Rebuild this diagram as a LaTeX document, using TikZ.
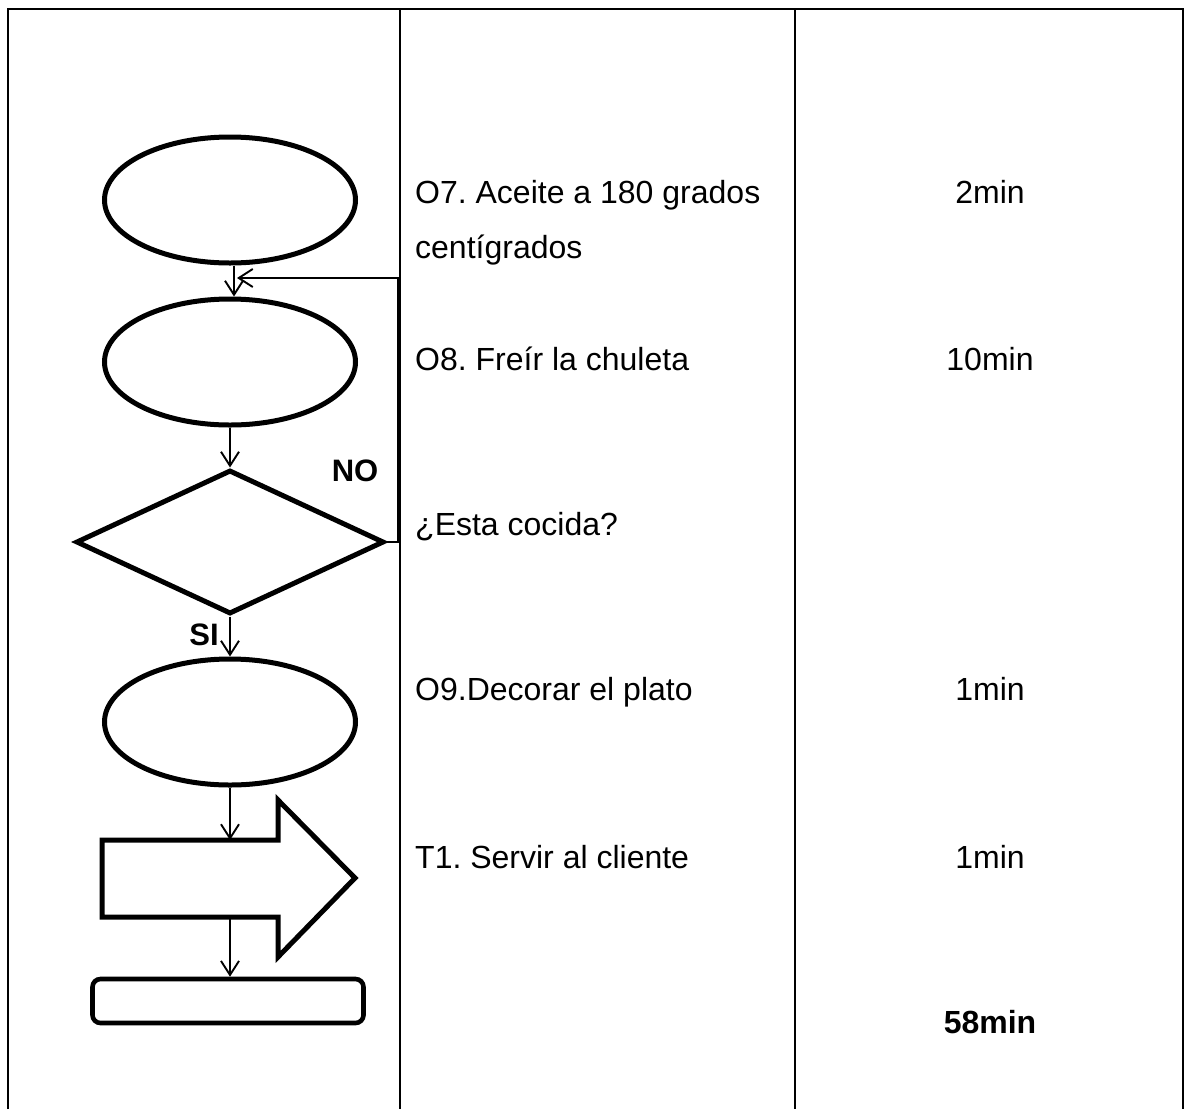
\documentclass[tikz,border=0pt]{standalone}
\usepackage{fontspec}
\setmainfont{Liberation Sans}
\usetikzlibrary{shapes.geometric,arrows.meta,calc}
\begin{document}
\frenchspacing
\begin{tikzpicture}[x=1pt,y=-1pt,
  tablerule/.style={line width=2.5pt},
  oper/.style={draw,ellipse,line width=5pt,minimum width=251pt,minimum height=126pt,inner sep=0pt},
  decis/.style={draw,diamond,line width=5pt,minimum width=308pt,minimum height=144pt,inner sep=0pt},
  endbox/.style={draw,rectangle,rounded corners=8pt,line width=4.6pt,minimum width=271pt,minimum height=44pt,inner sep=0pt},
  conn/.style={line width=1.9pt,-{Straight Barb[length=14pt,width=18pt,line width=1.9pt]}},
  txt/.style={anchor=base west,inner sep=0pt,font=\fontsize{32}{38}\selectfont},
  tim/.style={anchor=base,inner sep=0pt,font=\fontsize{32}{38}\selectfont},
  lbl/.style={anchor=center,inner sep=0pt,font=\fontsize{31}{37}\selectfont\bfseries}]
\useasboundingbox (0,0) rectangle (1186,1109);
% table
\draw[tablerule] (8,1109) -- (8,9) -- (1183,9) -- (1183,1109);
\draw[tablerule] (400,9) -- (400,1109);
\draw[tablerule] (795,9) -- (795,1109);
% shapes
\node[oper] (e1) at (230,200) {};
\node[oper] (e2) at (230,362) {};
\node[decis] (d) at (230,542) {};
\node[oper] (e3) at (230,722) {};
\draw[line width=5pt,line join=miter] (102,840) -- (278,840) -- (278,800) -- (355,878) -- (278,957) -- (278,917) -- (102,917) -- cycle;
\coordinate (tin) at (230,840);
\coordinate (tout) at (230,917);
\node[endbox] (fin) at (228,1001) {};
% connectors
\draw[conn] ($(e1.south)+(4,0)$) -- ($(e2.north)+(4,0)$);
\draw[conn] (e2.south) -- (d.north);
\draw[conn] (d.south) -- (e3.north);
\draw[conn] (e3.south) -- (tin);
\draw[conn] (tout) -- (tout |- fin.north);
\coordinate (fbend) at (237,278);
\draw[conn] (d.east) -- (398,542) -- (398,278) -- (fbend);
% labels
\node[lbl] (no) at (355,471) {NO};
\node[lbl] (si) at (204,635) {SI};
% texts
\node[txt] (t1) at (415,203) {O7. Aceite a 180 grados};
\node[txt] (t1b) at (415,258) {centígrados};
\node[txt] (t2) at (415,370) {O8. Freír la chuleta};
\node[txt] (t3) at (415,535) {¿Esta cocida?};
\node[txt] (t4) at (415,700) {O9.Decorar el plato};
\node[txt] (t5) at (415,868) {T1. Servir al cliente};
\node[tim] (m1) at (990,203) {2min};
\node[tim] (m2) at (990,370) {10min};
\node[tim] (m4) at (990,700) {1min};
\node[tim] (m5) at (990,868) {1min};
\node[tim,font=\fontsize{32}{38}\selectfont\bfseries] (tot) at (990,1033) {58min};
\end{tikzpicture}
\end{document}
